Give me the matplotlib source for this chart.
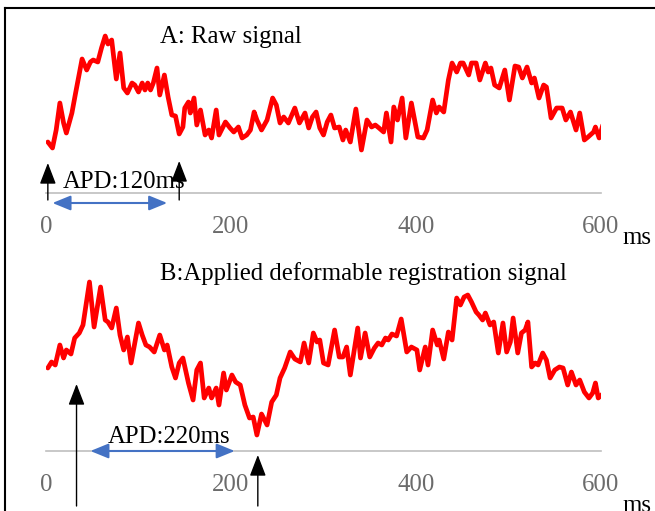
import numpy as np
import matplotlib
matplotlib.use('Agg')
import matplotlib.pyplot as plt
from matplotlib.lines import Line2D

# panel A: raw signal (ms, amplitude)
time_a = [2, 7, 11, 15, 19, 22, 28, 32, 39, 44, 48, 51, 56, 60, 64, 67, 71, 76, 80, 84,
          88, 93, 96, 100, 104, 107, 110, 113, 116, 120, 123, 128, 132, 136, 140, 144, 148, 150, 154, 156,
          160, 163, 167, 172, 176, 179, 184, 187, 194, 199, 203, 208, 212, 217, 221, 225, 228, 233, 239, 245,
          249, 253, 257, 262, 269, 274, 280, 284, 288, 292, 296, 300, 304, 308, 312, 317, 321, 324, 329, 335,
          341, 347, 352, 356, 360, 365, 368, 373, 376, 380, 385, 389, 395, 402, 408, 412, 418, 422, 425, 430,
          435, 439, 444, 448, 451, 457, 460, 465, 469, 475, 478, 481, 485, 490, 496, 501, 507, 511, 515, 520,
          525, 528, 533, 538, 541, 546, 552, 558, 562, 567, 573, 577, 582, 586, 592, 594, 598, 602]
sig_a = [51, 45, 63, 90, 70, 60, 80, 100, 134, 123, 131, 133, 131, 145, 157, 149, 153, 114, 140, 105,
         100, 110, 108, 101, 110, 103, 110, 103, 110, 125, 98, 118, 96, 78, 77, 59, 66, 85, 91, 80,
         95, 68, 83, 58, 63, 55, 83, 58, 71, 65, 61, 66, 55, 58, 63, 81, 73, 63, 73, 95,
         88, 70, 76, 70, 85, 70, 80, 65, 76, 81, 65, 58, 71, 78, 65, 66, 53, 63, 51, 84,
         43, 73, 66, 68, 65, 61, 80, 51, 86, 73, 95, 55, 90, 56, 55, 63, 93, 80, 86, 81,
         113, 130, 121, 130, 130, 118, 130, 130, 113, 130, 121, 125, 108, 105, 123, 93, 127, 126, 115, 126,
         110, 115, 95, 108, 106, 75, 85, 85, 73, 81, 63, 80, 53, 56, 61, 66, 55, 68]

# panel B: after deformable registration
time_b = [2, 6, 10, 15, 19, 22, 27, 31, 36, 40, 47, 52, 59, 64, 67, 71, 76, 80, 84, 88,
          92, 96, 100, 104, 108, 112, 117, 123, 128, 131, 136, 140, 144, 148, 154, 159, 163, 167, 171, 176,
          179, 184, 187, 192, 195, 201, 205, 210, 215, 220, 224, 228, 233, 239, 244, 249, 253, 258, 264, 269,
          275, 279, 284, 289, 293, 296, 300, 305, 312, 317, 321, 325, 329, 337, 340, 345, 350, 355, 359, 363,
          367, 370, 374, 379, 384, 390, 395, 401, 404, 410, 413, 418, 423, 425, 430, 435, 439, 444, 448, 452,
          456, 460, 465, 468, 472, 475, 480, 484, 485, 489, 494, 498, 502, 505, 510, 514, 518, 521, 525, 529,
          532, 537, 541, 545, 550, 555, 559, 564, 568, 573, 577, 582, 587, 591, 594, 597, 603]
sig_b = [83, 89, 86, 106, 93, 101, 97, 113, 118, 126, 169, 124, 164, 131, 129, 123, 143, 116, 101, 114,
         88, 108, 128, 116, 106, 104, 99, 116, 101, 106, 84, 73, 88, 93, 68, 51, 81, 88, 53, 63,
         53, 63, 46, 78, 61, 76, 69, 66, 46, 33, 34, 16, 37, 26, 49, 56, 73, 83, 99, 92,
         89, 108, 88, 118, 109, 111, 88, 86, 121, 94, 94, 104, 76, 123, 93, 118, 94, 103, 108, 106,
         113, 111, 117, 115, 132, 99, 104, 101, 81, 104, 86, 121, 106, 111, 92, 119, 111, 153, 146, 154,
         156, 149, 139, 136, 131, 138, 126, 129, 123, 98, 128, 99, 109, 133, 98, 118, 121, 129, 84, 88,
         86, 98, 91, 73, 81, 84, 83, 66, 79, 66, 71, 59, 53, 58, 68, 53, 58]

ticks = [0, 200, 400, 600]

W, H = 655, 511
FS = 17.8
fig = plt.figure(figsize=(W / 100, H / 100), dpi=100)
plt.rcParams['font.family'] = ['Liberation Serif', 'DejaVu Serif']


def px_axes(left, top, right, bottom):
    return fig.add_axes([left / W, 1 - bottom / H, (right - left) / W, (bottom - top) / H])


def style_axis(ax, zero_px, top, bottom):
    ax.set_xlim(0, 600)
    ax.set_ylim(zero_px - bottom, zero_px - top)
    for s in ['top', 'right', 'left']:
        ax.spines[s].set_visible(False)
    ax.spines['bottom'].set_position(('data', 0))
    ax.spines['bottom'].set_color('#bfbfbf')
    ax.spines['bottom'].set_linewidth(1.2)
    ax.set_yticks([])
    ax.set_xticks(ticks)
    ax.set_xticklabels([str(t) for t in ticks])
    ax.tick_params(axis='x', length=0, pad=16.5, labelsize=FS, labelcolor='#6b6b6b')
    ax.patch.set_alpha(0)


def arrow(ax, x0, y0, x1, y1, style, color, lw, hl, hw):
    ax.annotate('', xy=(x1, y1), xytext=(x0, y0), annotation_clip=False,
                arrowprops=dict(arrowstyle=f'{style},head_length={hl},head_width={hw}',
                                color=color, lw=lw, shrinkA=0, shrinkB=0,
                                mutation_scale=10))


# ---- panel A ----
axA = px_axes(46, 15, 601, 250)
style_axis(axA, 193, 15, 250)
axA.plot(time_a, sig_a, color='#ff0000', lw=3.4, solid_joinstyle='round', solid_capstyle='round')
axA.text(231 / 0.925 - 46 / 0.925, 193 - 37, 'A: Raw signal', fontsize=FS, ha='center', va='center')
arrow(axA, 2, -7, 2, 30, '-|>', 'black', 1.0, 1.3, 0.5)
arrow(axA, 144, -7, 144, 32, '-|>', 'black', 1.0, 1.3, 0.5)
arrow(axA, 7, -10, 131, -10, '<|-|>', '#4472c4', 1.5, 1.1, 0.45)
axA.text(18, 11, 'APD:120ms', fontsize=FS, ha='left', va='center')
axA.text(622 / 0.925 - 46 / 0.925, 193 - 238, 'ms', fontsize=FS, ha='left', va='center',
         clip_on=False)

# ---- panel B ----
axB = px_axes(46, 262, 601, 511)
style_axis(axB, 451, 262, 511)
axB.plot(time_b, sig_b, color='#ff0000', lw=3.4, solid_joinstyle='round', solid_capstyle='round')
axB.text(363 / 0.925 - 46 / 0.925, 451 - 274, 'B:Applied deformable registration signal',
         fontsize=FS, ha='center', va='center')
arrow(axB, 33, -55, 33, 67, '-|>', 'black', 1.0, 1.3, 0.5)
arrow(axB, 229, -55, 229, -4, '-|>', 'black', 1.0, 1.3, 0.5)
arrow(axB, 48, 0, 204, 0, '<|-|>', '#4472c4', 1.5, 1.1, 0.45)
axB.text(67, 14, 'APD:220ms', fontsize=FS, ha='left', va='center')
axB.text(622 / 0.925 - 46 / 0.925, 451 - 506, 'ms', fontsize=FS, ha='left', va='center',
         clip_on=False)

# outer frame (top and left edges only visible)
fig.add_artist(Line2D([5 / W, 1], [1 - 8 / H, 1 - 8 / H], color='black', lw=1.5))
fig.add_artist(Line2D([5 / W, 5 / W], [1 - 8 / H, 0], color='black', lw=1.5))

fig.savefig('out.png', dpi=100)
